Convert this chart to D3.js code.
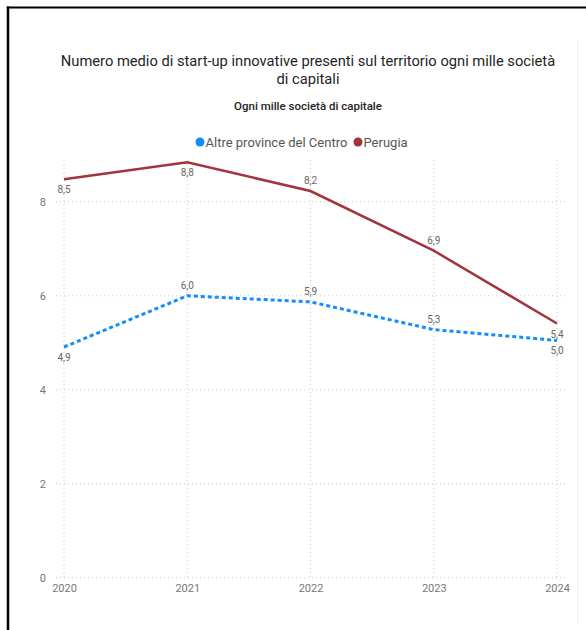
<!DOCTYPE html>
<html><head><meta charset="utf-8">
<script src="https://cdn.jsdelivr.net/npm/d3@7"></script>
<style>body{margin:0;background:#fff;} svg{display:block;}</style>
</head><body>
<svg id="chart" width="586" height="630"></svg>
<script>
const years = ["2020","2021","2022","2023","2024"];
const perugia = [8.48, 8.84, 8.23, 6.96, 5.41];
const altre = [4.91, 6.0, 5.87, 5.28, 5.05];
const perugiaLabels = ["8,5","8,8","8,2","6,9","5,4"];
const altreLabels = ["4,9","6,0","5,9","5,3","5,0"];
const perugiaLabelPos = ["below","below","above","above","below"];
const altreLabelPos = ["below","above","above","above","below"];
const yTicks = [0,2,4,6,8];
const seriesNames = ["Altre province del Centro","Perugia"];
const colors = ["#118DFF","#A1343C"];

const svg = d3.select("#chart");
// frame
svg.append("line").attr("x1",8).attr("x2",8).attr("y1",6.5).attr("y2",630).attr("stroke","#000").attr("stroke-width",2.5);
svg.append("line").attr("x1",6.8).attr("x2",586).attr("y1",7.5).attr("y2",7.5).attr("stroke","#000").attr("stroke-width",2.2);
svg.append("line").attr("x1",577.5).attr("x2",577.5).attr("y1",40).attr("y2",625).attr("stroke","#f2f2f2").attr("stroke-width",1);

const x = d3.scalePoint().domain(years).range([64, 557]);
const y = d3.scaleLinear().domain([0, 8.89]).range([577.7, 160]);

// title
const title = svg.append("text").attr("text-anchor","middle").attr("font-family","Roboto, sans-serif").attr("font-size",14.7).attr("fill","#252423");
title.append("tspan").attr("x",308).attr("y",66).text("Numero medio di start-up innovative presenti sul territorio ogni mille società");
title.append("tspan").attr("x",308).attr("y",84).text("di capitali");
svg.append("text").attr("x",308).attr("y",110).attr("text-anchor","middle").attr("font-family","Roboto, sans-serif").attr("font-size",11.5).attr("font-weight",500).attr("fill","#252423").text("Ogni mille società di capitale");

// legend
const legendX = [200, 358];
seriesNames.forEach((n,i)=>{
  svg.append("circle").attr("cx",legendX[i]).attr("cy",142).attr("r",4.5).attr("fill",colors[i]);
  svg.append("text").attr("x",legendX[i]+5.5).attr("y",146.5).attr("font-family","Roboto, sans-serif").attr("font-size",13).attr("fill","#555").text(n);
});

// grid
const g = svg.append("g");
g.selectAll(".hg").data(yTicks).join("line").attr("x1",56).attr("x2",567)
  .attr("y1",d=>y(d)).attr("y2",d=>y(d)).attr("stroke","#c8c8c8").attr("stroke-dasharray","1,3");
g.selectAll(".vg").data(years).join("line").attr("x1",d=>x(d)).attr("x2",d=>x(d))
  .attr("y1",160).attr("y2",y(0)).attr("stroke","#c8c8c8").attr("stroke-dasharray","1,3");

// axes
const yAxis = d3.axisLeft(y).tickValues(yTicks).tickSize(0).tickPadding(0).tickFormat(d3.format("d"));
svg.append("g").attr("transform","translate(46,0)").call(yAxis)
  .call(s=>s.select(".domain").remove())
  .call(s=>s.selectAll("text").attr("font-family","Roboto, sans-serif").attr("font-size",11).attr("fill","#777"));
const xAxis = d3.axisBottom(x).tickSize(0).tickPadding(0);
svg.append("g").attr("transform","translate(0,584)").call(xAxis)
  .call(s=>s.select(".domain").remove())
  .call(s=>s.selectAll("text").attr("font-family","Roboto, sans-serif").attr("font-size",11).attr("fill","#777"));

// lines
const line = d3.line().x((d,i)=>x(years[i])).y(d=>y(d));
svg.append("path").datum(altre).attr("d",line).attr("fill","none").attr("stroke",colors[0]).attr("stroke-width",3).attr("stroke-dasharray","4,3");
svg.append("path").datum(perugia).attr("d",line).attr("fill","none").attr("stroke",colors[1]).attr("stroke-width",2.5);

// labels
function labels(vals, labs, pos){
  svg.append("g").selectAll("text").data(vals).join("text")
    .attr("x",(d,i)=>x(years[i]))
    .attr("y",(d,i)=>pos[i]==="above" ? y(d)-7 : y(d)+14)
    .attr("text-anchor","middle").attr("font-family","Roboto, sans-serif").attr("font-size",10).attr("fill","#666")
    .text((d,i)=>labs[i]);
}
labels(perugia, perugiaLabels, perugiaLabelPos);
labels(altre, altreLabels, altreLabelPos);
</script>
</body></html>
